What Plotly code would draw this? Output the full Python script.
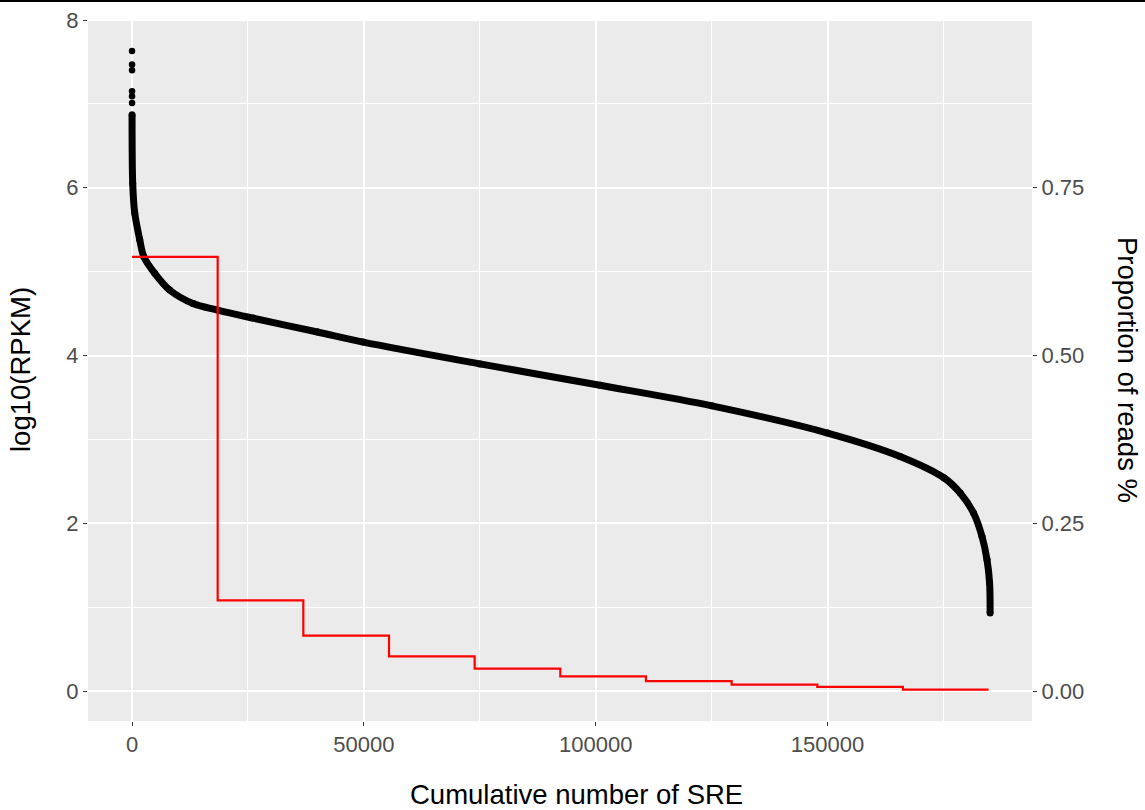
import plotly.graph_objects as go

# ---------------- data ----------------
outlier_rank = [1, 2, 3, 4, 5, 6]
outlier_log = [7.63, 7.47, 7.40, 7.15, 7.09, 7.01]

curve_rank = [7, 150, 583, 1660, 2525, 4900, 8135, 13160, 18200, 26100, 40000,
              49850, 75030, 100930, 125030, 150000, 165640, 175160,
              178600, 181480, 183300, 184380, 184940, 185050]
curve_log = [6.87, 6.05, 5.70, 5.38, 5.18, 4.98, 4.78, 4.62, 4.545, 4.446, 4.28,
             4.16, 3.90, 3.645, 3.40, 3.076, 2.797, 2.54,
             2.361, 2.123, 1.844, 1.567, 1.289, 0.93]

bin_start = [0, 18470, 36940, 55420, 73890, 92360, 110830, 129300, 147780, 166250, 184720]
bin_prop = [0.647, 0.1352, 0.0826, 0.0518, 0.0335, 0.0220, 0.0147, 0.0097, 0.0063, 0.0022, 0.0022]

x_ticks = [0, 50000, 100000, 150000]
x_tick_labels = ["0", "50000", "100000", "150000"]
x_minor = [25000, 75000, 125000, 175000]
y_ticks = [0, 2, 4, 6, 8]
y_tick_labels = ["0", "2", "4", "6", "8"]
y_minor = [1, 3, 5, 7]
y2_ticks = [0, 0.25, 0.5, 0.75]
y2_tick_labels = ["0.00", "0.25", "0.50", "0.75"]

x_title = "Cumulative number of SRE"
y_title = "log10(RPKM)"
y2_title = "Proportion of reads %"

# ---------------- figure ----------------
W, H = 1145, 810
L, R, T, B = 88, 113, 19, 89
FONT = "Liberation Sans, Arial, sans-serif"
TICK_FONT = dict(family=FONT, size=22, color="#4D4D4D")

y_range = [-0.357, 8.012]
y2_range = [y_range[0] / 8, y_range[1] / 8]

fig = go.Figure()
fig.add_trace(go.Scatter(
    x=curve_rank, y=curve_log, mode="lines+markers",
    line=dict(color="black", width=7, shape="spline", smoothing=0.9),
    marker=dict(color="black", size=7),
    hoverinfo="skip", showlegend=False))
fig.add_trace(go.Scatter(
    x=outlier_rank, y=outlier_log, mode="markers",
    marker=dict(color="black", size=6.5),
    showlegend=False))
fig.add_trace(go.Scatter(
    x=bin_start, y=bin_prop, yaxis="y2", mode="lines",
    line=dict(color="#FF0000", width=2.2, shape="hv"),
    showlegend=False))

axis_common = dict(
    showline=False, zeroline=False, showgrid=True, automargin=False,
    gridcolor="white", gridwidth=2,
    ticks="outside", ticklen=4, tickwidth=1.2, tickcolor="#333333",
    tickfont=TICK_FONT, tickmode="array",
)

fig.update_layout(
    width=W, height=H,
    margin=dict(l=L, r=R, t=T, b=B, pad=0, autoexpand=False),
    paper_bgcolor="white", plot_bgcolor="#EBEBEB",
    font=dict(family=FONT, color="black"),
    xaxis=dict(range=[-9495, 194087], tickvals=x_ticks, ticktext=x_tick_labels,
               minor=dict(tickmode="array", tickvals=x_minor, showgrid=True,
                          gridcolor="white", gridwidth=1, ticks=""),
               **axis_common),
    yaxis=dict(range=y_range, tickvals=y_ticks, ticktext=y_tick_labels,
               minor=dict(tickmode="array", tickvals=y_minor, showgrid=True,
                          gridcolor="white", gridwidth=1, ticks=""),
               **axis_common),
    yaxis2=dict(range=y2_range, overlaying="y", side="right", automargin=False,
                showline=False, zeroline=False, showgrid=False,
                ticks="outside", ticklen=4, tickwidth=1.2, tickcolor="#333333",
                tickfont=TICK_FONT, tickmode="array",
                tickvals=y2_ticks, ticktext=y2_tick_labels),
    showlegend=False,
)

pw = W - L - R
ph = H - T - B
fig.add_annotation(text=x_title, xref="paper", yref="paper",
                   x=(576 - L) / pw, y=-(794.5 - (H - B)) / ph,
                   showarrow=False, font=dict(family=FONT, size=27.5, color="black"),
                   xanchor="center", yanchor="middle")
fig.add_annotation(text=y_title, xref="paper", yref="paper",
                   x=-(L - 20) / pw, y=0.5, textangle=-90,
                   showarrow=False, font=dict(family=FONT, size=27.5, color="black"),
                   xanchor="center", yanchor="middle")
fig.add_annotation(text=y2_title, xref="paper", yref="paper",
                   x=1 + (1128 - (W - R)) / pw, y=0.5, textangle=90,
                   showarrow=False, font=dict(family=FONT, size=27.5, color="black"),
                   xanchor="center", yanchor="middle")

# thin black border line at the very top of the image
fig.add_shape(type="rect", xref="paper", yref="paper",
              x0=-L / pw, x1=(W - L) / pw, y0=1 + (T - 2) / ph, y1=1 + T / ph,
              fillcolor="black", line=dict(width=0), layer="above")

fig.write_html("out.html")
